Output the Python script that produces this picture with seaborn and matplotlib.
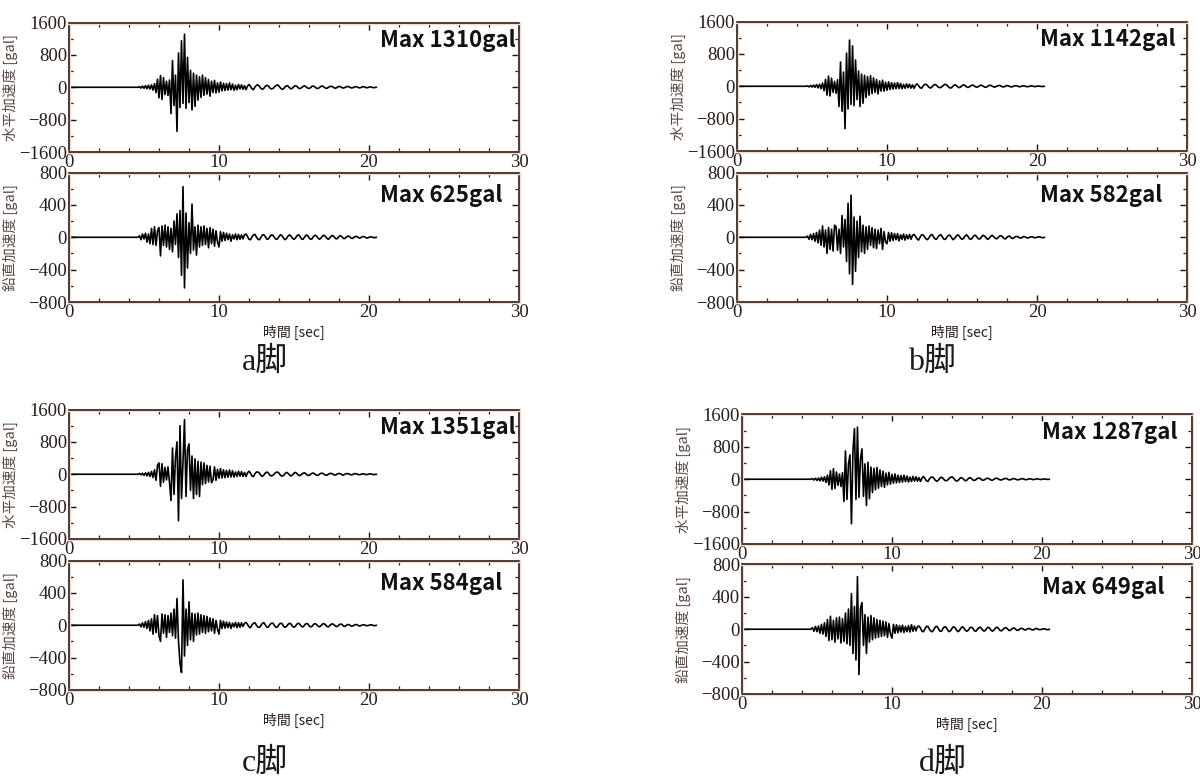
import numpy as np
import pandas as pd
import seaborn as sns
import matplotlib.pyplot as plt
import matplotlib.patheffects as pe
from matplotlib.ticker import MultipleLocator

# 加速度記録 (dt = 0.1 sec), 4.6秒以前は無振動
dt = 0.1
quiet = [0] * 46

# a脚
a_h = [0, 15, -20, 30, -25, 40, -35, 50, -45, 60,
       -70, 90, -130, 200, -260, 290, -300, 240, -180, 150,
       -200, 180, -650, 660, -450, 300, -1090, 850, -500, 1150,
       -400, 1310, -520, 740, -380, 420, -560, 350, -470, 300,
       -320, 260, -250, 300, -200, 240, -170, 190, -220, 150,
       -130, 170, -140, 110, -120, 130, -90, 100, -80, 90,
       -70, 110, -60, 80, -75, 50, -60, 70, -40, 60,
       -50, 40, -60, 30, 70, 20, -40, -60, 10, 50,
       60, 20, -30, -50, -20, 30, 50, 30, -20, -40,
       -30, 10, 40, 60, 30, -20, -50, -40, 10, 40,
       30, -10, -40, -20, 20, 40, 20, -20, -35, -10,
       20, 35, 15, -20, -30, -10, 25, 30, 5, -25,
       -30, -5, 25, 30, 5, -20, -25, 0, 20, 25,
       5, -20, -20, 5, 20, 15, -10, -20, -5, 15,
       20, 5, -15, -15, 5, 15, 10, -10, -15, 0,
       15, 10, -10, -10, 5, 10, 0, -10, -5, 0]
a_v = [0, 20, -30, 40, -20, 50, -60, 40, -80, 110,
       -90, 130, -100, 80, 120, -230, 140, -100, 150, -120,
       130, -150, 110, -180, 200, -90, 290, -250, 330, -470,
       625, -625, 300, -380, 180, -200, 410, -160, 130, -220,
       150, -120, 130, -100, 140, -90, 110, -130, 120, -80,
       100, -110, 80, -60, -120, 70, -50, 60, -40, 50,
       -30, 40, -50, 30, -20, 40, -30, 35, -25, 30,
       -20, 30, 40, 10, -25, -30, 5, 30, 35, 0,
       -25, -30, 0, 30, 30, 5, -25, -20, 10, 30,
       25, -5, -25, -20, 10, 30, 20, -10, -30, -15,
       15, 30, 15, -15, -25, -10, 20, 30, 10, -20,
       -25, 0, 25, 25, -5, -25, -20, 10, 25, 15,
       -10, -25, -10, 15, 25, 10, -15, -25, -5, 20,
       20, 0, -20, -15, 10, 20, 5, -15, -15, 5,
       15, 10, -10, -15, 0, 10, 10, -5, -10, 0,
       10, 5, -5, -10, 0, 5, 5, -5, -5, 0]

# b脚
b_h = [0, 10, -15, 20, -20, 30, -25, 40, -40, 50,
       -60, 80, -110, 170, -220, 250, -240, 200, -150, 120,
       -170, 160, -500, 600, -620, 350, -1050, 820, -560, 1142,
       -450, 1000, -480, 650, -330, 380, -500, 300, -420, 270,
       -280, 240, -220, 260, -180, 210, -150, 170, -190, 130,
       -120, 150, -120, 100, -100, 110, -80, 90, -70, 80,
       -60, 90, -55, 70, -60, 45, -50, 60, -35, 50,
       -45, 35, -50, 25, 60, 15, -35, -50, 5, 45,
       50, 15, -25, -45, -15, 25, 45, 25, -20, -35,
       -25, 5, 35, 50, 25, -15, -45, -35, 5, 35,
       25, -10, -35, -20, 15, 35, 20, -15, -30, -10,
       15, 30, 15, -15, -25, -5, 20, 25, 5, -20,
       -25, -5, 20, 25, 5, -15, -20, 0, 15, 20,
       5, -15, -15, 5, 15, 10, -10, -15, -5, 10,
       15, 5, -10, -10, 5, 10, 5, -10, -10, 0,
       10, 5, -5, -10, 5, 5, 0, -5, -5, 0]
b_v = [0, 15, -25, 35, -30, 45, -50, 60, -70, 90,
       -100, 140, -120, 90, -200, 120, -150, 100, -170, 150,
       130, -160, 100, -200, 270, -120, 220, -300, 420, -450,
       520, -582, 250, -420, 200, -250, 260, -180, 150, -200,
       130, -150, 140, -100, 120, -130, 100, -140, 90, -80,
       110, -150, 70, -60, -80, 60, -50, 55, -40, 45,
       -30, 45, -45, 30, -25, 40, -35, 30, -20, 35,
       -25, 25, 35, 10, -20, -35, 0, 30, 30, 5,
       -20, -30, -5, 25, 35, 5, -20, -25, 5, 25,
       30, 0, -25, -25, 5, 25, 25, -5, -30, -15,
       10, 30, 20, -10, -25, -15, 15, 30, 10, -20,
       -25, -5, 20, 25, 0, -20, -20, 5, 25, 15,
       -5, -25, -15, 10, 25, 10, -10, -20, -5, 15,
       20, 5, -15, -20, 0, 15, 10, -10, -15, 0,
       10, 10, -5, -10, -5, 10, 5, -5, -10, 0,
       5, 5, -5, -5, 0, 5, 5, -5, -5, 0]

# c脚
c_h = [0, 20, -15, 25, -30, 35, -40, 45, -55, 70,
       -80, 110, -150, 220, 280, -300, 260, -200, 170, -140,
       180, -200, -650, 650, -500, 420, 800, -1150, 1200, -600,
       300, 1351, -550, 600, 750, -400, 450, -600, 380, -500,
       320, -550, 300, -260, 280, -230, 220, -190, 200, -210,
       -140, 180, -150, 120, -100, 140, -90, 110, -85, 95,
       -75, 105, -65, 85, -70, 55, -55, 75, -45, 65,
       -55, 45, -55, 35, 75, 25, -45, -55, 15, 55,
       55, 25, -35, -50, -15, 35, 55, 25, -25, -45,
       -25, 15, 45, 55, 25, -25, -45, -35, 15, 45,
       25, -15, -45, -15, 25, 45, 15, -25, -35, -5,
       25, 35, 10, -25, -30, -5, 25, 30, 0, -25,
       -25, 0, 25, 25, 0, -20, -25, 5, 20, 20,
       0, -20, -15, 10, 20, 10, -15, -20, 0, 15,
       15, 0, -15, -10, 10, 15, 5, -10, -10, 5,
       10, 5, -10, -5, 5, 10, 0, -10, -5, 0]
c_v = [0, 15, -20, 30, -25, 45, -40, 60, -70, 80,
       -110, 130, -90, 120, -130, -200, 140, -100, 130, -150,
       120, -90, 150, -130, 200, -160, 330, -200, -470, -584,
       560, -380, 200, -250, 290, -180, 150, -200, 140, -120,
       150, -110, 130, -90, 120, -100, 110, -80, 90, -70,
       80, -100, 60, -50, -110, 60, -40, 50, -35, 40,
       -30, 35, -40, 25, -20, 35, -30, 30, -25, 30,
       -15, 25, 35, 10, -20, -30, 5, 25, 30, 0,
       -25, -25, 0, 25, 30, 0, -25, -20, 10, 25,
       25, -5, -25, -20, 10, 25, 20, -10, -25, -15,
       10, 25, 15, -15, -25, -10, 15, 25, 10, -15,
       -20, 0, 20, 20, -5, -20, -15, 10, 20, 10,
       -10, -20, -5, 15, 20, 5, -15, -20, 0, 15,
       15, 0, -15, -15, 5, 15, 10, -10, -15, 0,
       10, 5, -10, -10, 0, 10, 5, -5, -10, 0,
       5, 5, -5, -5, 0, 5, 5, -5, -5, 0]

# d脚
d_h = [0, 15, -20, 25, -30, 30, -40, 50, -45, 60,
       -80, 100, -140, 210, -250, 260, -230, 180, -150, 130,
       -180, 160, -550, 700, -500, 380, 600, -1100, 700, 1250,
       -500, 1287, -450, 500, 750, -420, 380, -650, 420, -480,
       300, -330, 270, -260, 290, -220, 230, -180, 200, -200,
       150, -140, 170, -120, 120, -100, 130, -90, 100, -80,
       90, -70, 100, -60, 80, -70, 55, -55, 70, -45,
       60, -50, 40, -55, 30, 70, 20, -40, -55, 10,
       50, 55, 20, -30, -50, -20, 30, 50, 25, -20,
       -40, -25, 15, 45, 60, 30, -20, -45, -35, 10,
       40, 25, -10, -40, -20, 20, 40, 20, -20, -30,
       -10, 20, 30, 15, -20, -25, -5, 20, 25, 5,
       -20, -25, 0, 20, 25, 5, -15, -20, 0, 15,
       20, 5, -15, -15, 5, 15, 10, -10, -15, -5,
       10, 15, 0, -10, -10, 5, 10, 5, -10, -5,
       5, 10, 0, -5, -5, 5, 5, 0, -5, 0]
d_v = [0, 20, -25, 35, -30, 40, -50, 60, -60, 80,
       -90, 120, -140, 160, -130, 110, -160, 140, -120, 150,
       -170, 130, -150, 200, -180, 250, -200, 440, -300, 280,
       -380, 649, -560, 260, 330, -200, 180, -300, 150, -160,
       170, -130, 140, -110, 120, -100, 110, -90, 100, -80,
       90, -100, 70, -60, -110, 60, -50, 55, -45, 45,
       -35, 50, -40, 35, -30, 45, -35, 55, -25, 40,
       -20, 30, 40, 15, -25, -30, 5, 35, 35, 0,
       -25, -30, 0, 30, 35, 5, -25, -25, 10, 30,
       25, -5, -30, -20, 10, 30, 20, -10, -30, -15,
       15, 30, 15, -15, -25, -10, 20, 25, 10, -20,
       -25, 0, 20, 25, 0, -20, -20, 5, 25, 15,
       -10, -25, -10, 15, 25, 10, -15, -20, -5, 15,
       20, 5, -15, -15, 5, 15, 10, -10, -15, 0,
       10, 10, -5, -10, 0, 10, 5, -5, -10, 0,
       10, 5, -5, -5, 0, 5, 5, -5, -5, 0]

legs = ['a脚', 'b脚', 'c脚', 'd脚']
h_data = [a_h, b_h, c_h, d_h]
v_data = [a_v, b_v, c_v, d_v]
h_max = [1310, 1142, 1351, 1287]
v_max = [625, 582, 584, 649]

# レイアウト (figure座標) : 左, 幅, 上段グラフ下端, 下段グラフ下端
left = [0.0575, 0.6142, 0.0575, 0.6183]
width = 0.375
top_bottom = [0.8051, 0.8064, 0.3090, 0.3026]
low_bottom = [0.6128, 0.6128, 0.1154, 0.1103]
ax_h = 0.1660
leg_xy = [(0.221, 0.536), (0.777, 0.536), (0.221, 0.022), (0.786, 0.022)]
text_x = [0.69, 0.673, 0.69, 0.667]

sns.set_theme(style='ticks')
plt.rcParams['font.family'] = ['Liberation Serif', 'Noto Sans CJK JP']

frame_col = '#1c120d'
halo = [pe.Stroke(linewidth=2.4, foreground='#f7dccd'), pe.Normal()]


def make_df(vals):
    y = quiet + vals
    t = np.round(np.arange(len(y)) * dt, 2)
    return pd.DataFrame({'time': t, 'acc': y})


def style_axes(ax, ylim, major, minor, ylabel):
    ax.set_xlim(0, 30)
    ax.set_ylim(-ylim, ylim)
    ax.xaxis.set_major_locator(MultipleLocator(10))
    ax.xaxis.set_minor_locator(MultipleLocator(2))
    ax.yaxis.set_major_locator(MultipleLocator(major))
    ax.yaxis.set_minor_locator(MultipleLocator(minor))
    ax.tick_params(which='both', direction='in', top=True, right=True,
                   colors=frame_col, labelcolor='#2a1d18', labelsize=13.5)
    ax.tick_params(which='major', length=5, width=1.0, pad=1.5)
    ax.tick_params(which='minor', length=3, width=0.9)
    for sp in ax.spines.values():
        sp.set_color(frame_col)
        sp.set_linewidth(1.1)
        sp.set_path_effects(halo)
    ax.set_ylabel(ylabel, family=['Noto Sans CJK JP'], fontsize=10.5,
                  color='#5b4740')
    ax.yaxis.set_label_coords(-0.113, 0.5)
    ax.set_xlabel('')


fig = plt.figure(figsize=(12, 7.8), dpi=100)

for i in range(4):
    ax1 = fig.add_axes([left[i], top_bottom[i], width, ax_h])
    ax2 = fig.add_axes([left[i], low_bottom[i], width, ax_h])

    sns.lineplot(data=make_df(h_data[i]), x='time', y='acc', ax=ax1,
                 color='black', linewidth=1.2, estimator=None)
    sns.lineplot(data=make_df(v_data[i]), x='time', y='acc', ax=ax2,
                 color='black', linewidth=1.2, estimator=None)

    style_axes(ax1, 1600, 800, 400, '水平加速度 [gal]')
    style_axes(ax2, 800, 400, 200, '鉛直加速度 [gal]')
    ax2.set_xlabel('時間 [sec]', family=['Noto Sans CJK JP'], fontsize=10,
                   color='#2a1d18', labelpad=3)

    ax1.text(text_x[i], 0.86, f'Max {h_max[i]}gal', transform=ax1.transAxes,
             ha='left', va='center', fontsize=16, fontweight='bold',
             family=['Noto Sans CJK JP'], color='#111111')
    ax2.text(text_x[i], 0.82, f'Max {v_max[i]}gal', transform=ax2.transAxes,
             ha='left', va='center', fontsize=16, fontweight='bold',
             family=['Noto Sans CJK JP'], color='#111111')

    fig.text(leg_xy[i][0], leg_xy[i][1], legs[i], ha='center', va='center',
             fontsize=23, color='#1a1a1a')

fig.savefig('out.png', dpi=100, facecolor='white')
